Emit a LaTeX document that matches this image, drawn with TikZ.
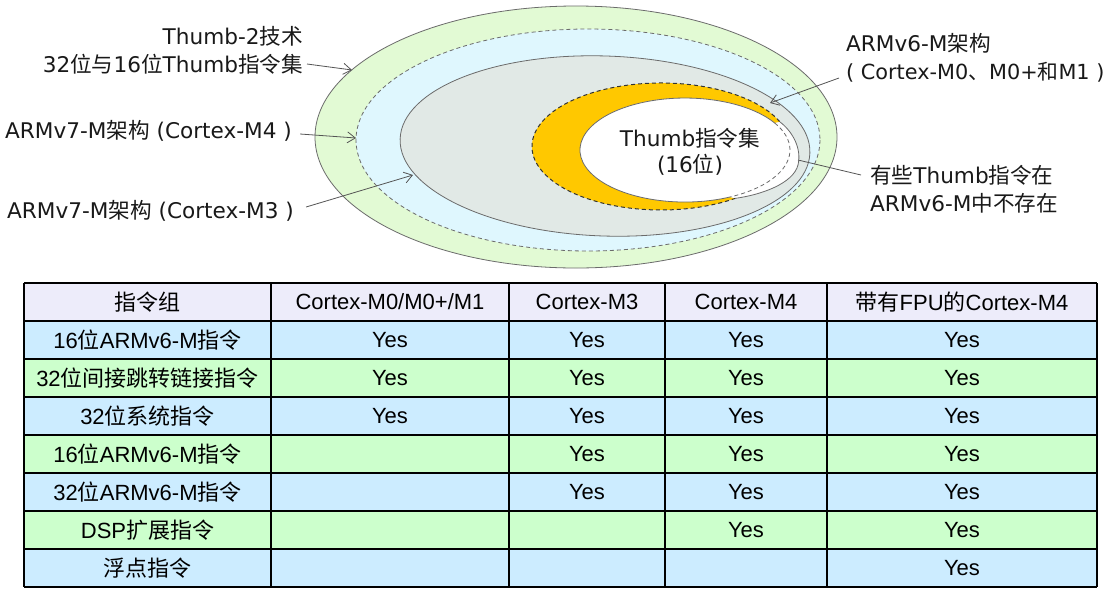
\documentclass[tikz,border=0pt]{standalone}
\usepackage{fontspec}
\setmainfont{Liberation Sans}
\newfontfamily\cjk{Noto Sans CJK SC}
\newfontfamily\dv{DejaVu Sans}
\usetikzlibrary{arrows.meta,calc}
\definecolor{greenE}{HTML}{E2FAD4}
\definecolor{cyanE}{HTML}{DFF7FE}
\definecolor{grayE}{HTML}{E1E9E6}
\definecolor{yellowC}{HTML}{FFC800}
\definecolor{lav}{HTML}{EDECFA}
\definecolor{rowblue}{HTML}{CCECFF}
\definecolor{rowgreen}{HTML}{CCFFCC}
\definecolor{elgray}{HTML}{6B6B6B}
\definecolor{arrgray}{HTML}{555555}
\newcommand\zh[1]{{\cjk #1}}
\begin{document}
\begin{tikzpicture}[x=1pt,y=-1pt,
  every node/.style={font=\fontsize{22}{26}\selectfont},
  elline/.style={draw=elgray, line width=0.8pt},
  dsh/.style={dash pattern=on 4pt off 3pt},
  lbl/.style={inner sep=3pt, text=black!90, font=\fontsize{21.6}{26}\selectfont},
  arr/.style={draw=arrgray, line width=0.8pt, -{Straight Barb[length=8pt,width=11pt]}},
  cell/.style={inner sep=0pt, text=black},
  grid/.style={draw=black, line width=1.3pt}]
\useasboundingbox (0,0) rectangle (1113,595);
\fill[white] (0,0) rectangle (1113,595);

% ---- nested ellipses
\draw[elline, fill=greenE] (576,137) ellipse [x radius=261, y radius=131];
\draw[elline, dsh, fill=cyanE] (588,140) ellipse [x radius=232, y radius=111];
\draw[elline, fill=grayE, rotate around={-2:(605,146)}] (605,146) ellipse [x radius=205, y radius=90];

% ---- yellow crescent (ARMv6-M)
\fill[yellowC] (735.5,198.3) arc[start angle=54.7, end angle=337.3, x radius=129, y radius=63.5]
  -- (774.7,123.0) arc[start angle=328.7, end angle=64.6, x radius=105, y radius=52] -- cycle;
% white Thumb region
\fill[white] (685,150) ellipse [x radius=105, y radius=52];
\fill[white] (780,122) .. controls (792,131) and (802,148) .. (798,165)
  .. controls (793,184) and (760,195) .. (735.5,198.3) -- (730,197)
  arc[start angle=64.6, end angle=-31.3, x radius=105, y radius=52] -- cycle;
% outlines
\draw[draw=black!80, line width=1pt, dsh] (735.5,198.3) arc[start angle=54.7, end angle=337.3, x radius=129, y radius=63.5];
\draw[elline] (730,197) arc[start angle=64.6, end angle=328.7, x radius=105, y radius=52];
\draw[elline, dsh] (774.7,123.0) arc[start angle=-31.3, end angle=64.6, x radius=105, y radius=52];
\draw[elline] (780,122) .. controls (792,131) and (802,148) .. (798,165)
  .. controls (793,184) and (760,195) .. (735.5,198.3);

% ---- labels
\node[lbl, anchor=east] (l1a) at (306,36) {\dv Thumb-2\zh{技术}};
\node[lbl, anchor=east] (l1b) at (306,64) {\dv 32\zh{位与}16\zh{位}Thumb\zh{指令集}};
\node[lbl, anchor=west] (l2) at (2,131) {\dv ARMv7-M\zh{架构} (Cortex-M4 )};
\node[lbl, anchor=west] (l3) at (4,211) {\dv ARMv7-M\zh{架构} (Cortex-M3 )};
\node[lbl, anchor=west] (l4a) at (843,43) {\dv ARMv6-M\zh{架构}};
\node[lbl, anchor=west, font=\fontsize{20.8}{25}\selectfont] (l4b) at (843,72) {\dv ( Cortex-M0\zh{、}M0+\zh{和}M1 )};
\node[lbl, anchor=west] (l5a) at (867,175) {\dv \zh{有些}Thumb\zh{指令在}};
\node[lbl, anchor=west] (l5b) at (867,203) {\dv ARMv6-M\zh{中不存在}};
\node[lbl] (th1) at (690,138) {\dv Thumb\zh{指令集}};
\node[lbl] (th2) at (690,165) {\dv (16\zh{位})};

% ---- arrow targets
\coordinate (a1e) at (352,70);
\coordinate (a2e) at (356,138);
\coordinate (a3e) at (413,175);
\coordinate (a4e) at (770,103);
\coordinate (a5e) at (798,160);
\draw[arr] ([xshift=1pt]l1b.east) -- (a1e);
\draw[arr] ([xshift=5pt,yshift=-3pt]l2.east) -- (a2e);
\draw[arr] ([xshift=9pt,yshift=4pt]l3.east) -- (a3e);
\draw[arr] ([xshift=-4pt,yshift=-6pt]l4b.west) -- (a4e);
\draw[draw=arrgray, line width=0.8pt] ([xshift=-6pt]l5a.west) -- (a5e);

% ---- table backgrounds
\fill[lav] (24,283) rectangle (1097,321);
\foreach \k/\c in {1/rowblue,2/rowgreen,3/rowblue,4/rowgreen,5/rowblue,6/rowgreen,7/rowblue}
  \fill[\c] (24,{283+38*\k}) rectangle (1097,{321+38*\k});
% grid
\foreach \k in {0,...,8} \draw[grid] (24,{283+38*\k}) -- (1097,{283+38*\k});
\foreach \x in {24,271,509,665,827,1097} \draw[grid] (\x,283) -- (\x,587);

% header
\node[cell] (h1) at (147.5,302) {\zh{指令组}};
\node[cell] (h2) at (390,302) {Cortex-M0/M0+/M1};
\node[cell] (h3) at (587,302) {Cortex-M3};
\node[cell] (h4) at (746,302) {Cortex-M4};
\node[cell] (h5) at (962,302) {\zh{带有}FPU\zh{的}Cortex-M4};
% row labels
\node[cell] (r1) at (147.5,340) {16\zh{位}ARMv6-M\zh{指令}};
\node[cell] (r2) at (147.5,378) {32\zh{位间接跳转链接指令}};
\node[cell] (r3) at (147.5,416) {32\zh{位系统指令}};
\node[cell] (r4) at (147.5,454) {16\zh{位}ARMv6-M\zh{指令}};
\node[cell] (r5) at (147.5,492) {32\zh{位}ARMv6-M\zh{指令}};
\node[cell] (r6) at (147.5,530) {DSP\zh{扩展指令}};
\node[cell] (r7) at (147.5,568) {\zh{浮点指令}};
% Yes cells
\foreach \r/\y in {1/340,2/378,3/416}
  \node[cell] (y\r c2) at (390,\y) {Yes};
\foreach \r/\y in {1/340,2/378,3/416,4/454,5/492}
  \node[cell] (y\r c3) at (587,\y) {Yes};
\foreach \r/\y in {1/340,2/378,3/416,4/454,5/492,6/530}
  \node[cell] (y\r c4) at (746,\y) {Yes};
\foreach \r/\y in {1/340,2/378,3/416,4/454,5/492,6/530,7/568}
  \node[cell] (y\r c5) at (962,\y) {Yes};
\end{tikzpicture}
\end{document}
